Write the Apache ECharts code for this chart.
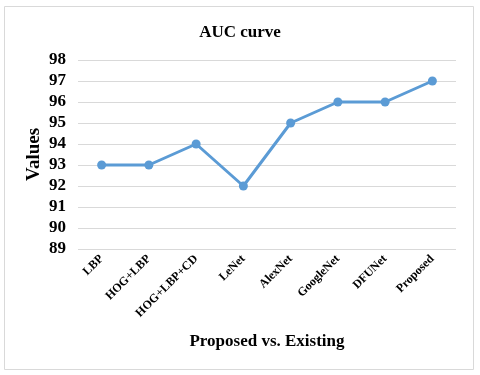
<!DOCTYPE html>
<html>
<head>
<meta charset="utf-8">
<script src="https://cdn.jsdelivr.net/npm/echarts@6/dist/echarts.min.js"></script>
<style>
  html, body { margin: 0; padding: 0; background: #fff; }
  #chart { width: 480px; height: 375px; }
</style>
</head>
<body>
<div id="chart"></div>
<script>
// categories and values
var methods = ['LBP', 'HOG+LBP', 'HOG+LBP+CD', 'LeNet', 'AlexNet', 'GoogleNet', 'DFUNet', 'Proposed'];
var aucValues = [93, 93, 94, 92, 95, 96, 96, 97];

var serif = '"Liberation Serif", "DejaVu Serif", serif';

var chart = echarts.init(document.getElementById('chart'));

chart.setOption({
    animation: false,
    title: {
        text: 'AUC curve',
        left: 'center',
        top: 19,
        textStyle: { fontFamily: serif, fontWeight: 'bold', fontSize: 17, color: '#000' }
    },
    // light frame round the chart
    graphic: [{
        type: 'rect',
        shape: { x: 4.5, y: 6.5, width: 469, height: 363 },
        style: { fill: 'none', stroke: '#d9d9d9', lineWidth: 1 },
        z: -1
    }],
    grid: { left: 78, right: 24, top: 60, bottom: 126 },
    xAxis: {
        type: 'category',
        data: methods,
        boundaryGap: true,
        name: 'Proposed vs. Existing',
        nameLocation: 'middle',
        nameGap: 84,
        nameMoveOverlap: false,
        nameTextStyle: { fontFamily: serif, fontWeight: 'bold', fontSize: 17, color: '#000' },
        axisLine: { show: false },
        axisTick: { show: false },
        axisLabel: {
            rotate: 45,
            margin: 8,
            interval: 0,
            fontFamily: serif,
            fontWeight: 'bold',
            fontSize: 12,
            color: '#000'
        }
    },
    yAxis: {
        type: 'value',
        min: 89,
        max: 98,
        interval: 1,
        name: 'Values',
        nameLocation: 'middle',
        nameGap: 34,
        nameMoveOverlap: false,
        nameTextStyle: { fontFamily: serif, fontWeight: 'bold', fontSize: 19, color: '#000' },
        axisLine: { show: false },
        axisTick: { show: false },
        axisLabel: { fontFamily: serif, fontWeight: 'bold', fontSize: 17, color: '#000', margin: 12 },
        splitLine: { lineStyle: { color: '#d9d9d9', width: 1 } }
    },
    series: [{
        type: 'line',
        data: aucValues,
        symbol: 'circle',
        symbolSize: 9,
        lineStyle: { color: '#5b9bd5', width: 3 },
        itemStyle: { color: '#5b9bd5' }
    }]
});
</script>
</body>
</html>
